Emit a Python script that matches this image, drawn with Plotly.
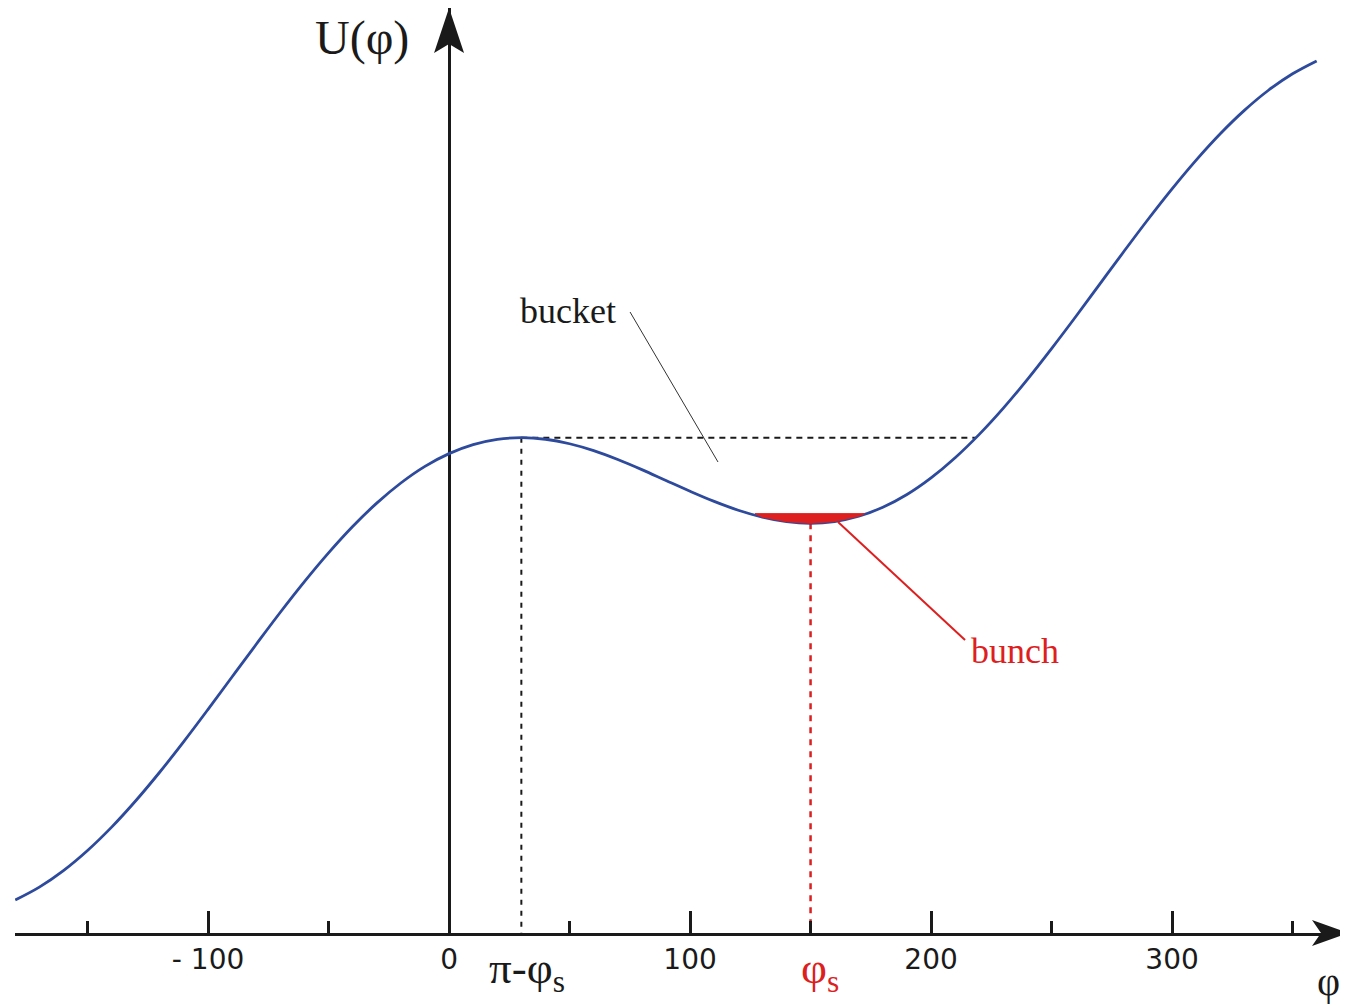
import plotly.graph_objects as go

# ---- data ----
phi_deg = list(range(-180, 361, 10))
U_vals = [-2.571, -2.468, -2.336, -2.175, -1.988, -1.777, -1.547, -1.302, -1.046, -0.785,
          -0.525, -0.269, -0.024, 0.206, 0.417, 0.604, 0.765, 0.898, 1.000,
          1.072, 1.114, 1.128, 1.115, 1.079, 1.024, 0.953, 0.872, 0.785, 0.699,
          0.618, 0.547, 0.492, 0.456, 0.443, 0.457, 0.499, 0.571, 0.673, 0.806,
          0.967, 1.154, 1.364, 1.594, 1.840, 2.095, 2.356, 2.617, 2.873, 3.118,
          3.348, 3.559, 3.746, 3.907, 4.039, 4.142]

phi_peak = 30.0          # pi - phi_s
U_peak = 1.128
phi_cross = 218.6        # where the curve returns to U_peak
phi_s = 150.0
U_min = 0.443

bunch_phi = [127, 130, 140, 150, 160, 170, 172.5]
bunch_U = [0.52, 0.492, 0.456, 0.443, 0.457, 0.499, 0.52]
bunch_top = 0.52

bucket_ptr_phi = [75.1, 111.6]
bucket_ptr_U = [2.133, 0.933]
bunch_ptr_phi = [161.4, 214.1]
bunch_ptr_U = [0.453, -0.491]

x_range = [-180.1, 373.0]
y_range = [-2.835, 4.565]

tick_vals = [-100, 0, 100, 200, 300]
tick_text = ["- 100", "0", "100", "200", "300"]
minor_vals = [-150, -50, 50, 150, 250, 350]

BLUE = "#2d4a9c"
RED = "#dd1f1f"
BLACK = "#1a1a1a"
SERIF = "Liberation Serif"


def py(u):
    """data U value -> paper fraction (for labels below the axis)"""
    return (u - y_range[0]) / (y_range[1] - y_range[0])


fig = go.Figure()

# dashed guide lines
fig.add_trace(go.Scatter(x=[phi_peak, phi_cross], y=[U_peak, U_peak], mode="lines",
                         line=dict(color=BLACK, width=2, dash="6px,5px"), hoverinfo="skip"))
fig.add_trace(go.Scatter(x=[phi_peak, phi_peak], y=[U_peak, y_range[0]], mode="lines",
                         line=dict(color=BLACK, width=2, dash="5px,6px"), hoverinfo="skip"))
fig.add_trace(go.Scatter(x=[phi_s, phi_s], y=[U_min, y_range[0]], mode="lines",
                         line=dict(color=RED, width=2.5, dash="6px,6px"), hoverinfo="skip"))

# potential curve
fig.add_trace(go.Scatter(x=phi_deg, y=U_vals, mode="lines", line_shape="spline",
                         line=dict(color=BLUE, width=2.8), hoverinfo="skip"))

# bunch
fig.add_trace(go.Scatter(x=bunch_phi + [bunch_phi[-1], bunch_phi[0]],
                         y=bunch_U + [bunch_top, bunch_top],
                         mode="lines", fill="toself", fillcolor=RED,
                         line=dict(color=RED, width=1), hoverinfo="skip"))

# pointer lines
fig.add_trace(go.Scatter(x=bucket_ptr_phi, y=bucket_ptr_U, mode="lines",
                         line=dict(color="#333333", width=1), hoverinfo="skip"))
fig.add_trace(go.Scatter(x=bunch_ptr_phi, y=bunch_ptr_U, mode="lines",
                         line=dict(color=RED, width=2), hoverinfo="skip"))

annotations = [
    dict(text="U(φ)", x=-36, y=4.325, xref="x", yref="y", showarrow=False,
         yanchor="middle", borderpad=0,
         font=dict(family=SERIF, size=48, color=BLACK)),
    dict(text="φ", x=364.7, y=py(-3.22), xref="x", yref="paper", showarrow=False,
         yanchor="middle", borderpad=0, font=dict(family=SERIF, size=40, color=BLACK)),
    dict(text="π-φ<sub>s</sub>", x=32.4, y=py(-3.14), xref="x", yref="paper", showarrow=False,
         yanchor="middle", borderpad=0, font=dict(family=SERIF, size=45, color=BLACK)),
    dict(text="φ<sub>s</sub>", x=154, y=py(-3.14), xref="x", yref="paper", showarrow=False,
         yanchor="middle", borderpad=0, font=dict(family=SERIF, size=45, color=RED)),
    dict(text="bucket", x=49.4, y=2.141, xref="x", yref="y", showarrow=False,
         font=dict(family=SERIF, size=36, color=BLACK)),
    dict(text="bunch", x=234.9, y=-0.579, xref="x", yref="y", showarrow=False,
         font=dict(family=SERIF, size=36, color=RED)),
]

shapes = [
    # y-axis arrowhead
    dict(type="path", xref="x", xsizemode="pixel", xanchor=0,
         yref="paper", ysizemode="pixel", yanchor=1,
         path="M0,0 L15,-45 L0,-36 L-15,-45 Z", fillcolor=BLACK, line=dict(width=0)),
    # x-axis arrowhead
    dict(type="path", xref="paper", xsizemode="pixel", xanchor=1,
         yref="paper", ysizemode="pixel", yanchor=0,
         path="M0,0 L-36,13 L-27,0 L-36,-13 Z", fillcolor=BLACK, line=dict(width=0)),
]

# page body has an 8px margin, so the figure is sized/positioned to compensate
fig.update_layout(
    width=1340, height=996,
    margin=dict(l=7, r=0, t=0, b=71),
    paper_bgcolor="white", plot_bgcolor="white",
    showlegend=False,
    annotations=annotations,
    shapes=shapes,
    xaxis=dict(range=x_range, showgrid=False, showline=True, linecolor=BLACK, linewidth=2.5,
               ticks="inside", ticklen=22, tickwidth=2.5, tickcolor=BLACK,
               tickvals=tick_vals, ticktext=tick_text,
               tickfont=dict(family="DejaVu Sans", size=28, color=BLACK),
               minor=dict(tickvals=minor_vals, ticks="inside", ticklen=12, tickwidth=2.5,
                          tickcolor=BLACK, showgrid=False),
               zeroline=True, zerolinecolor=BLACK, zerolinewidth=2.5, fixedrange=True),
    yaxis=dict(range=y_range, showgrid=False, zeroline=False, showticklabels=False,
               showline=False, ticks="", fixedrange=True),
)

fig.write_html("out.html")
